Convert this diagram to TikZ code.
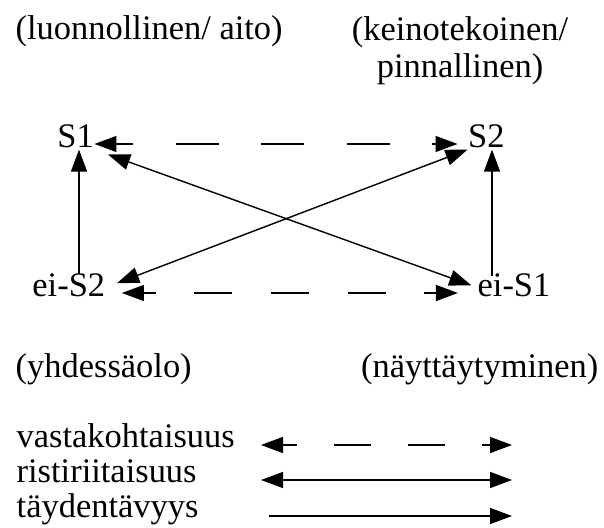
\documentclass[tikz,border=0pt]{standalone}
\usepackage{fontspec}
\setmainfont{Liberation Serif}
\usepackage{tikz}
\usetikzlibrary{arrows.meta}
\tikzset{
head/.tip={Triangle[length=0.55cm,width=0.4cm]}, % filled arrow heads
>=head, % makes every arrow use them
node distance=3.725cm, % from the S row down to the ei row
term/.style={inner sep=0pt, text height=0.58em, text depth=0.12em}, % the four terms of the square
note/.style={inner sep=0pt}, % the words round the square
contrary/.style={head-head, dash pattern=on 1.069cm off 1.069cm, dash phase=0.644cm}, % vastakohtaisuus
contradiction/.style={head-head}, % ristiriitaisuus
complement/.style={-head}, % taydentavyys
}
\begin{document}
\begin{tikzpicture}[font=\fontsize{24.5pt}{29pt}\selectfont, line width=1pt]
		\useasboundingbox (0,0) rectangle (15.1,13.2);

		\node[note, anchor=base west] (aito) at (0.375,12.2) {(luonnollinen/ aito)};
		\node[note, anchor=north, align=center, font=\fontsize{24.5pt}{26.3pt}\selectfont] (pinta) at (11.5,12.79) {(keinotekoinen/\\pinnallinen)};

		\node[term] (S1) at (1.89,9.6) {S1};
		\node[term, right of=S1, node distance=10.27cm] (S2) {S2};
		\node[term, below of=S1, xshift=-0.17cm] (eiS2) {ei-S2};
		\node[term, below of=S2, xshift=0.69cm] (eiS1) {ei-S1};

		\node[note, anchor=base west] (yhd) at (0.375,3.75) {(yhdessäolo)};
		\node[note, anchor=base east] (nayt) at (14.975,3.75) {(näyttäytyminen)};

		\draw[contrary, shorten >=0.25cm] (S1) -- (S2);
		\draw[contrary, dash pattern=on 0.96cm off 0.96cm, dash phase=0.66cm, shorten <=0.4cm, shorten >=0.475cm] (eiS2) -- (eiS1);
		\draw[contradiction, shorten <=0.36cm, shorten >=0.15cm] (S1.south east) -- (eiS1.north west);
		\draw[contradiction, shorten >=0.3cm] (S2.south west) -- (eiS2.north east);
		\draw[complement, shorten <=0.33cm] ([xshift=0.085cm]S1.south |- eiS2.north) -- ([xshift=0.085cm]S1.south);
		\draw[complement, shorten <=0.28cm] ([xshift=0.14cm]S2.south |- eiS1.north) -- ([xshift=0.14cm]S2.south);

		\node[note, anchor=base west] (vast) at (0.4,2.0) {vastakohtaisuus};
		\node[note, anchor=base west] (rist) at (0.4,1.125) {ristiriitaisuus};
		\node[note, anchor=base west] (tayd) at (0.4,0.25) {täydentävyys};
		\coordinate (vast1) at (6.525,2.075);
		\coordinate (vast2) at (12.8,2.075);
		\coordinate (rist1) at (6.525,1.2);
		\coordinate (rist2) at (12.8,1.2);
		\coordinate (tayd1) at (6.725,0.3);
		\coordinate (tayd2) at (12.8,0.3);

		\draw[contrary, dash pattern=on 0.925cm off 0.925cm, dash phase=0.575cm] (vast1) -- (vast2);
		\draw[contradiction] (rist1) -- (rist2);
		\draw[complement] (tayd1) -- (tayd2);
	\end{tikzpicture}
\end{document}
